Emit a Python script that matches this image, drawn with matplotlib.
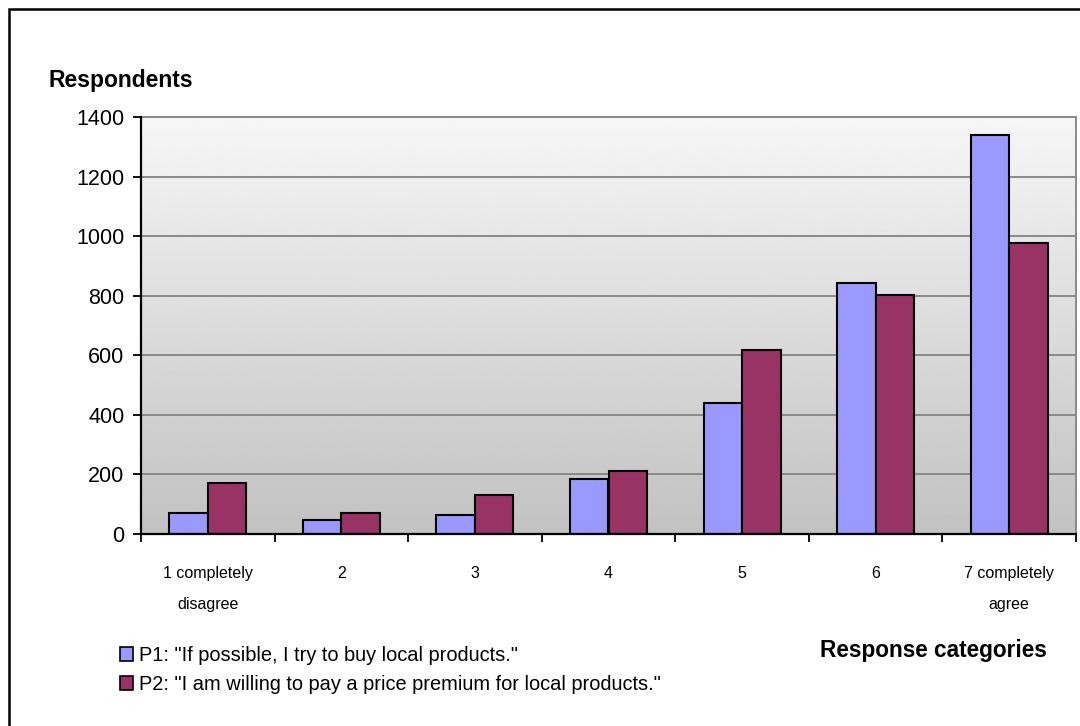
import numpy as np
import matplotlib
matplotlib.use("Agg")
import matplotlib.pyplot as plt
from matplotlib.patches import Rectangle, Patch

plt.rcParams['font.family'] = ['Liberation Sans', 'DejaVu Sans']

categories = ["1 completely\ndisagree", "2", "3", "4", "5", "6", "7 completely\nagree"]
p1 = [71, 47, 64, 183, 439, 844, 1340]
p2 = [172, 70, 130, 212, 618, 803, 976]
labels = ['P1: "If possible, I try to buy local products."',
          'P2: "I am willing to pay a price premium for local products."']
colors = ["#9999ff", "#993366"]
yticks = [0, 200, 400, 600, 800, 1000, 1200, 1400]

fig = plt.figure(figsize=(10.8, 7.26), dpi=100)
ax = fig.add_axes([141 / 1080, 1 - 534 / 726, 935 / 1080, 417 / 726])

# grey vertical gradient behind the bars
grad = np.linspace(0.965, 0.76, 256).reshape(-1, 1)
ax.imshow(grad, cmap="gray", vmin=0, vmax=1, aspect="auto",
          extent=[0, 1, 0, 1], transform=ax.transAxes, zorder=0)

x = np.arange(len(categories))
w = 0.288
ax.bar(x - w / 2, p1, w, color=colors[0], edgecolor="black", linewidth=1.5,
       zorder=3, label=labels[0])
ax.bar(x + w / 2, p2, w, color=colors[1], edgecolor="black", linewidth=1.5,
       zorder=3, label=labels[1])

ax.set_xlim(-0.5, len(categories) - 0.5)
ax.set_ylim(0, 1400)
ax.set_yticks(yticks)
ax.tick_params(axis="y", length=6, width=1.3, pad=6, labelsize=15.5)
ax.yaxis.grid(True, color="#8a8a8a", linewidth=1.4, zorder=1)
ax.set_axisbelow(True)

ax.set_xticks(x)
ax.set_xticklabels(categories, fontsize=11.5, linespacing=2.3, va="top")
ax.tick_params(axis="x", length=0, pad=23)
ax.set_xticks(np.arange(len(categories) + 1) - 0.5, minor=True)
ax.tick_params(axis="x", which="minor", length=6, width=1.3)

for side in ("left", "bottom"):
    ax.spines[side].set_linewidth(1.6)
    ax.spines[side].set_zorder(4)
for side in ("top", "right"):
    ax.spines[side].set_color("#8a8a8a")
    ax.spines[side].set_linewidth(1.4)

fig.text(49 / 1080, 1 - 80 / 726, "Respondents", fontsize=16.5, fontweight="bold",
         va="center", ha="left")
fig.text(1047 / 1080, 1 - 651 / 726, "Response categories", fontsize=16.3,
         fontweight="bold", va="center", ha="right")

handles = [Patch(facecolor=c, edgecolor="black", linewidth=1.2) for c in colors]
fig.legend(handles, labels, loc="upper left",
           bbox_to_anchor=(120 / 1080, 1 - 646 / 726), frameon=False,
           fontsize=14.4, handlelength=0.67, handleheight=0.67,
           handletextpad=0.3, labelspacing=0.5, borderpad=0, borderaxespad=0)

fig.patches.append(Rectangle((9 / 1080, -0.1), 1.2, 1.1 - 9 / 726,
                             transform=fig.transFigure, fill=False,
                             edgecolor="black", linewidth=1.8))

fig.savefig("out.png", dpi=100)
